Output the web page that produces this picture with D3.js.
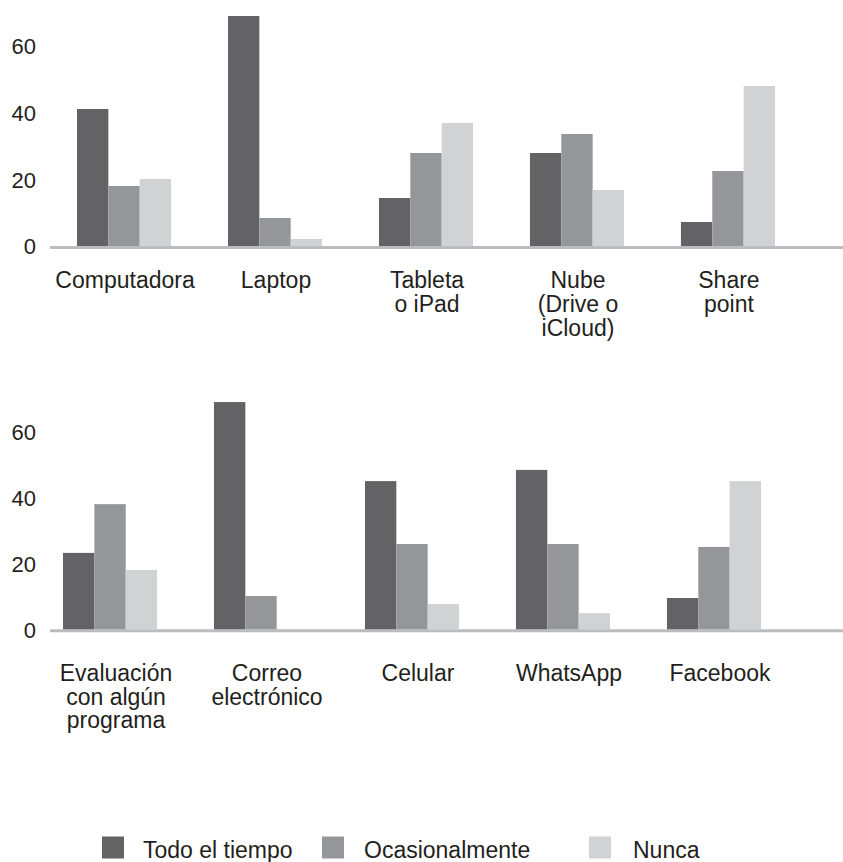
<!DOCTYPE html>
<html>
<head>
<meta charset="utf-8">
<script src="https://cdn.jsdelivr.net/npm/d3@7"></script>
<style>
  html, body { margin: 0; padding: 0; background: #fff; }
  svg { display: block; }
  text { font-family: "Liberation Sans", Arial, Helvetica, sans-serif; fill: #231f20; }
</style>
</head>
<body>
<svg id="chart" width="843" height="862"></svg>
<script>
// ---- Data ----
const series = ["Todo el tiempo", "Ocasionalmente", "Nunca"];
const colors = ["#636365", "#959699", "#d1d2d4"];
const yTicks = [0, 20, 40, 60];

const topCategories = ["Computadora", "Laptop", "Tableta\no iPad", "Nube\n(Drive o\niCloud)", "Share\npoint"];
const topTodo       = [41.1, 69.0, 14.4, 27.9, 7.2];
const topOcasional  = [18.0, 8.4, 27.9, 33.6, 22.5];
const topNunca      = [20.1, 2.1, 36.9, 16.8, 48.0];

const botCategories = ["Evaluación\ncon algún\nprograma", "Correo\nelectrónico", "Celular", "WhatsApp", "Facebook"];
const botTodo       = [23.2, 69.0, 45.0, 48.4, 9.5];
const botOcasional  = [38.0, 10.1, 25.9, 25.9, 25.0];
const botNunca      = [18.0, 0, 7.7, 4.9, 45.0];

const svg = d3.select("#chart");
const FONT = 23;

function drawPanel(cfg) {
  const g = svg.append("g");
  const rows = cfg.categories.map((c, i) => ({
    cat: c,
    vals: [cfg.todo[i], cfg.ocas[i], cfg.nunca[i]]
  }));

  const x0 = d3.scaleBand()
    .domain(cfg.categories)
    .range([cfg.xStart, cfg.xStart + 698])
    .paddingInner(0.377)
    .paddingOuter(0);
  const x1 = d3.scaleBand()
    .domain(series)
    .range([0, x0.bandwidth()])
    .padding(0);
  const y = d3.scaleLinear()
    .domain([0, 60])
    .range([cfg.y0, cfg.y60]);

  // baseline
  g.append("line")
    .attr("x1", 50).attr("x2", 843)
    .attr("y1", y(0) + 1.5).attr("y2", y(0) + 1.5)
    .attr("stroke", "#bbbcbf").attr("stroke-width", 3);

  // bars
  const grp = g.selectAll("g.grp").data(rows).join("g")
    .attr("class", "grp")
    .attr("transform", d => `translate(${x0(d.cat)},0)`);
  grp.selectAll("rect").data(d => d.vals.map((v, k) => ({ s: series[k], v, k })))
    .join("rect")
    .filter(d => d.v > 0)
    .attr("x", d => x1(d.s))
    .attr("y", d => y(d.v))
    .attr("width", x1.bandwidth())
    .attr("height", d => y(0) - y(d.v))
    .attr("fill", d => colors[d.k]);

  // y axis labels
  const ax = d3.axisLeft(y).tickValues(yTicks).tickSize(0).tickPadding(0).tickFormat(d3.format("d"));
  const axG = g.append("g").attr("transform", "translate(36,0)").call(ax);
  axG.select(".domain").remove();
  axG.selectAll("text")
    .attr("font-size", 22)
    .attr("font-family", '"Liberation Sans", Arial, Helvetica, sans-serif')
    .attr("fill", "#231f20")
    .attr("dy", "0.36em");

  // category labels
  const lab = g.selectAll("text.cat").data(rows).join("text")
    .attr("class", "cat")
    .attr("text-anchor", "middle")
    .attr("font-size", FONT)
    .attr("x", d => x0(d.cat) + x0.bandwidth() / 2 + cfg.labelDx)
    .attr("y", y(0) + cfg.labelDy);
  lab.selectAll("tspan").data(d => d.cat.split("\n")).join("tspan")
    .attr("x", function() { return d3.select(this.parentNode).attr("x"); })
    .attr("dy", (d, i) => i === 0 ? 0 : cfg.lineH)
    .text(d => d);
}

drawPanel({
  categories: topCategories, todo: topTodo, ocas: topOcasional, nunca: topNunca,
  xStart: 77, y0: 246, y60: 46, labelDy: 42, lineH: 24, labelDx: 1
});
drawPanel({
  categories: botCategories, todo: botTodo, ocas: botOcasional, nunca: botNunca,
  xStart: 63, y0: 629.3, y60: 431.7, labelDy: 52, lineH: 23.5, labelDx: 6
});

// legend
const legendX = [102, 322, 589];
const legend = svg.append("g");
const li = legend.selectAll("g").data(series).join("g")
  .attr("transform", (d, i) => `translate(${legendX[i]},836.5)`);
li.append("rect").attr("width", 22).attr("height", 22).attr("fill", (d, i) => colors[i]);
li.append("text")
  .attr("x", (d, i) => [41, 42, 44][i])
  .attr("y", 21.5)
  .attr("font-size", FONT)
  .text(d => d);
</script>
</body>
</html>
